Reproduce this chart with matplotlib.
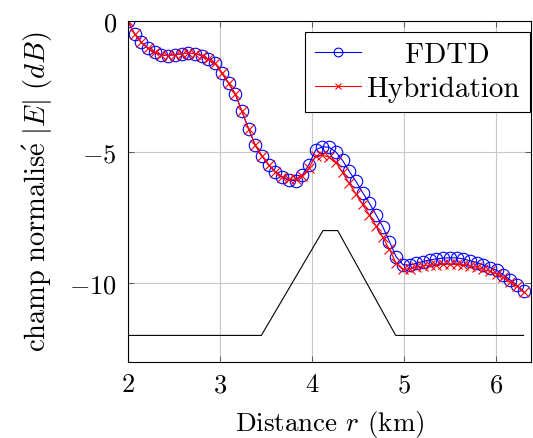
import numpy as np
import matplotlib
matplotlib.use("Agg")
import matplotlib.pyplot as plt

plt.rcParams["font.family"] = "serif"
plt.rcParams["font.serif"] = ["cmr10", "DejaVu Serif"]
plt.rcParams["mathtext.fontset"] = "cm"
plt.rcParams["axes.formatter.use_mathtext"] = True

# distance grid (km), 60 samples from 2 to 6.3
r_km = np.linspace(2.0, 6.3, 60)

fdtd_db = [
    0.00, -0.50, -0.82, -1.04, -1.20, -1.30, -1.32, -1.29, -1.25, -1.23,
    -1.25, -1.32, -1.47, -1.62, -1.98, -2.38, -2.78, -3.45, -4.12, -4.75,
    -5.16, -5.50, -5.76, -5.96, -6.08, -6.09, -5.88, -5.48, -4.92, -4.80,
    -4.82, -5.00, -5.32, -5.74, -6.12, -6.55, -6.95, -7.40, -7.85, -8.42,
    -9.00, -9.30, -9.32, -9.25, -9.18, -9.12, -9.08, -9.05, -9.04, -9.04,
    -9.08, -9.15, -9.22, -9.31, -9.41, -9.52, -9.69, -9.88, -10.08, -10.32,
]

hybrid_db = [
    0.00, -0.50, -0.82, -1.04, -1.20, -1.30, -1.32, -1.29, -1.25, -1.23,
    -1.25, -1.32, -1.47, -1.62, -1.98, -2.38, -2.78, -3.45, -4.12, -4.75,
    -5.16, -5.50, -5.76, -5.94, -6.04, -6.04, -5.92, -5.60, -5.15, -5.12,
    -5.20, -5.40, -5.78, -6.20, -6.60, -7.00, -7.40, -7.82, -8.25, -8.72,
    -9.25, -9.48, -9.45, -9.40, -9.35, -9.32, -9.30, -9.28, -9.28, -9.29,
    -9.31, -9.35, -9.40, -9.48, -9.56, -9.65, -9.78, -9.95, -10.12, -10.36,
]

# terrain profile (shifted to sit under the curves)
terrain_x = [2.0, 3.45, 4.12, 4.28, 4.91, 6.3]
terrain_y = [-12, -12, -8, -8, -12, -12]

fig = plt.figure(figsize=(5.33, 4.39), dpi=100)
ax = fig.add_axes([0.240, 0.174, 0.757, 0.776])

ax.plot(terrain_x, terrain_y, color="black", linewidth=0.8)
ax.plot(r_km, fdtd_db, "-o", color="blue", linewidth=0.8, markersize=9,
        markerfacecolor="none", markeredgewidth=0.8,
        label="    FDTD")
ax.plot(r_km, hybrid_db, "-x", color="red", linewidth=0.8, markersize=6.5,
        markeredgewidth=0.8, label="Hybridation")

ax.set_xlim(2, 6.385)
ax.set_ylim(-13, 0)
ax.set_xticks([2, 3, 4, 5, 6])
ax.set_yticks([-10, -5, 0])
ax.grid(color="#c8c8c8", linewidth=0.8)
ax.set_axisbelow(True)
ax.tick_params(direction="in", length=4, width=0.6, color="#444444",
               labelsize=19, top=True, right=True, pad=8)

ax.set_xlabel(r"Distance $r$ (km)", fontsize=19.5, labelpad=8)
ax.set_ylabel(r"$\mathrm{champ\ normalis\acute{e}}\ |E|\ (dB)$", fontsize=20.5,
              labelpad=10)

leg = ax.legend(loc="upper right", bbox_to_anchor=(0.997, 0.968), fontsize=21,
                frameon=True, fancybox=False, edgecolor="black", framealpha=1,
                handlelength=1.55, handletextpad=0.2, borderpad=0.35,
                borderaxespad=0, labelspacing=0.25, markerscale=0.7)
leg.get_frame().set_linewidth(0.8)

for s in ax.spines.values():
    s.set_linewidth(0.8)

fig.savefig("out.png", dpi=100)
